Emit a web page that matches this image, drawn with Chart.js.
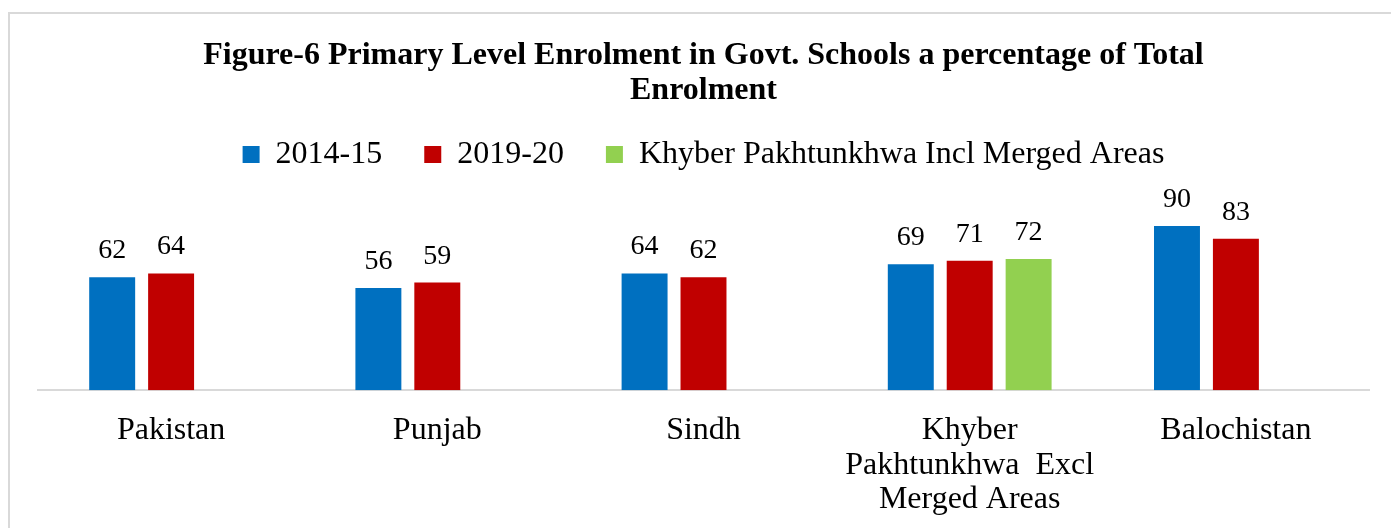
<!DOCTYPE html>
<html>
<head>
<meta charset="utf-8">
<script src="https://cdn.jsdelivr.net/npm/chart.js@4"></script>
<style>
  html, body { margin: 0; padding: 0; background: #fff; overflow: hidden; }
  #frame {
    position: absolute; left: 8px; top: 12px;
    width: 1400px; height: 540px;
    border-left: 2px solid #d9d9d9; border-top: 2px solid #d9d9d9;
  }
  #wrap { position: absolute; left: 0; top: 0; width: 1381px; height: 518px; }
</style>
</head>
<body>
<div id="frame"><div id="wrap"><canvas id="enrolChart"></canvas></div></div>
<script>
'use strict';

/* ── Data ─────────────────────────────────── */
const REGIONS = [
  'Pakistan',
  'Punjab',
  'Sindh',
  ['Khyber', 'Pakhtunkhwa  Excl', 'Merged Areas'],
  'Balochistan',
];
const SERIES_NAMES = ['2014-15', '2019-20', 'Khyber Pakhtunkhwa Incl Merged Areas'];
const VAL_2014 = [62, 56, 64, 69, 90];
const VAL_2019 = [64, 59, 62, 71, 83];
const VAL_KP_MERGED = [null, null, null, 72, null];

const COLORS = ['#0070C0', '#C00000', '#92D050'];
const SERIF = "'Liberation Serif', 'Times New Roman', serif";

/* ── Value labels ─────────────────────────── */
const valueLabels = {
  id: 'valueLabels',
  afterDatasetsDraw(chart) {
    const ctx = chart.ctx;
    ctx.save();
    ctx.font = `28px ${SERIF}`;
    ctx.fillStyle = '#000';
    ctx.textAlign = 'center';
    ctx.textBaseline = 'alphabetic';
    chart.data.datasets.forEach((ds, i) => {
      chart.getDatasetMeta(i).data.forEach((bar, j) => {
        if (ds.data[j] == null) return;
        ctx.fillText(String(ds.data[j]), bar.x, bar.y - 19);
      });
    });
    ctx.restore();
  },
};

new Chart(document.getElementById('enrolChart').getContext('2d'), {
  type: 'bar',
  data: {
    labels: REGIONS,
    datasets: [VAL_2014, VAL_2019, VAL_KP_MERGED].map((d, i) => ({
      label: SERIES_NAMES[i],
      data: d,
      backgroundColor: COLORS[i],
      borderWidth: 0,
      categoryPercentage: 0.664,
      barPercentage: 0.78,
    })),
  },
  options: {
    responsive: true,
    maintainAspectRatio: false,
    animation: false,
    layout: { padding: { left: 28, right: 22, top: 0, bottom: 0 } },
    plugins: {
      title: {
        display: true,
        text: ['Figure-6 Primary Level Enrolment in Govt. Schools a percentage of Total', 'Enrolment'],
        color: '#000',
        font: { family: SERIF, size: 32, weight: 'bold', lineHeight: 1.1 },
        padding: { top: 24, bottom: -12 },
      },
      legend: {
        display: true,
        labels: {
          color: '#000',
          font: { family: SERIF, size: 32 },
          boxWidth: 17,
          boxHeight: 17,
          padding: 42,
        },
      },
      tooltip: { enabled: false },
    },
    scales: {
      y: { display: false, min: 0, max: 115 },
      x: {
        grid: { display: false },
        border: { display: true, color: '#d9d9d9', width: 2 },
        ticks: {
          color: '#000',
          font: { family: SERIF, size: 32, lineHeight: 1.08 },
          padding: 15,
          maxRotation: 0,
          autoSkip: false,
        },
      },
    },
  },
  plugins: [valueLabels],
});
</script>
</body>
</html>
